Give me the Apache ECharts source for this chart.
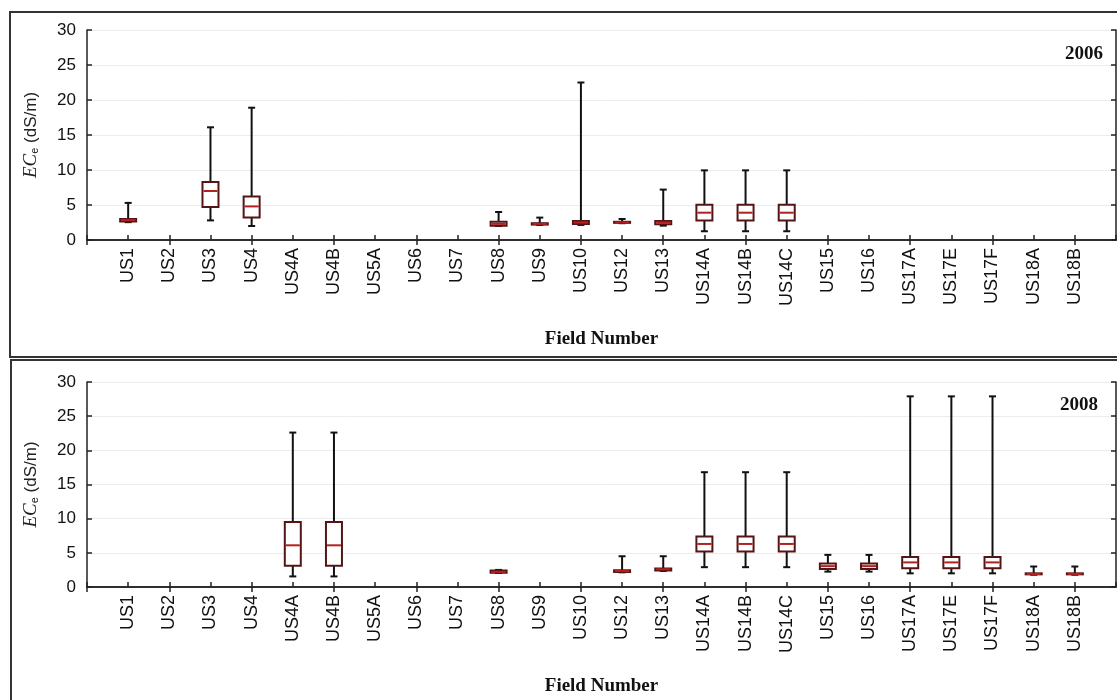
<!DOCTYPE html>
<html>
<head>
<meta charset="utf-8">
<script src="https://cdn.jsdelivr.net/npm/echarts@6/dist/echarts.min.js"></script>
<style>
html,body{margin:0;padding:0;background:#fff;}
#chart{width:1117px;height:700px;}
</style>
</head>
<body>
<div id="chart"></div>
<script>
// ---- data ----
const fields = ['US1','US2','US3','US4','US4A','US4B','US5A','US6','US7','US8','US9','US10','US12','US13','US14A','US14B','US14C','US15','US16','US17A','US17E','US17F','US18A','US18B'];
const yTicks = [0, 5, 10, 15, 20, 25, 30];
const years = ['2006', '2008'];
// [min, Q1, median, Q3, max] per field; null = no data
const boxes2006 = [
  [2.55, 2.65, 2.85, 3.0, 5.3],   // US1
  null,                           // US2
  [2.8, 4.7, 7.0, 8.3, 16.1],     // US3
  [2.0, 3.2, 4.8, 6.2, 18.9],     // US4
  null, null, null, null, null,   // US4A..US7
  [2.0, 2.05, 2.3, 2.6, 4.0],     // US8
  [2.15, 2.2, 2.3, 2.4, 3.2],     // US9
  [2.15, 2.3, 2.5, 2.7, 22.5],    // US10
  [2.4, 2.45, 2.5, 2.6, 3.0],     // US12
  [2.05, 2.25, 2.5, 2.7, 7.2],    // US13
  [1.25, 2.8, 3.9, 5.05, 9.95],   // US14A
  [1.25, 2.8, 3.9, 5.05, 9.95],   // US14B
  [1.25, 2.8, 3.9, 5.05, 9.95],   // US14C
  null, null, null, null, null, null, null // US15..US18B
];
const boxes2008 = [
  null, null, null, null,         // US1..US4
  [1.55, 3.1, 6.1, 9.5, 22.6],    // US4A
  [1.55, 3.1, 6.1, 9.5, 22.6],    // US4B
  null, null, null,               // US5A, US6, US7
  [2.05, 2.1, 2.2, 2.4, 2.5],     // US8
  null, null,                     // US9, US10
  [2.15, 2.2, 2.35, 2.45, 4.5],   // US12
  [2.35, 2.4, 2.6, 2.7, 4.5],     // US13
  [2.9, 5.2, 6.3, 7.4, 16.8],     // US14A
  [2.9, 5.2, 6.3, 7.4, 16.8],     // US14B
  [2.9, 5.2, 6.3, 7.4, 16.8],     // US14C
  [2.25, 2.65, 3.05, 3.45, 4.7],  // US15
  [2.25, 2.65, 3.05, 3.45, 4.7],  // US16
  [2.0, 2.75, 3.6, 4.4, 27.9],    // US17A
  [2.0, 2.75, 3.6, 4.4, 27.9],    // US17E
  [2.0, 2.75, 3.6, 4.4, 27.9],    // US17F
  [1.8, 1.85, 1.9, 2.0, 3.0],     // US18A
  [1.8, 1.85, 1.9, 2.0, 3.0]      // US18B
];

// ---- chart ----
const cats = [''].concat(fields, ['']);
const sans = 'Liberation Sans, Arial, sans-serif';
const serif = 'Liberation Serif, Times New Roman, serif';
const BOX_EDGE = '#561414';
const MEDIAN = '#b3201f';

function toSeriesData(boxes) {
  const out = [];
  boxes.forEach((b, i) => { if (b) out.push([i + 1].concat(b)); });
  return out;
}

function renderBox(params, api) {
  const x = api.value(0);
  const pMin = api.coord([x, api.value(1)]);
  const pQ1 = api.coord([x, api.value(2)]);
  const pMed = api.coord([x, api.value(3)]);
  const pQ3 = api.coord([x, api.value(4)]);
  const pMax = api.coord([x, api.value(5)]);
  const cx = pMed[0];
  const bw = 16, cw = 7;
  const line = (x1, y1, x2, y2, color, w) => ({
    type: 'line', shape: { x1, y1, x2, y2 },
    style: { stroke: color, lineWidth: w }
  });
  return {
    type: 'group',
    children: [
      line(cx, pMax[1], cx, pQ3[1], '#111', 2),
      line(cx, pQ1[1], cx, pMin[1], '#111', 2),
      line(cx - cw / 2, pMax[1], cx + cw / 2, pMax[1], '#111', 2),
      line(cx - cw / 2, pMin[1], cx + cw / 2, pMin[1], '#111', 2),
      {
        type: 'rect',
        shape: { x: cx - bw / 2, y: pQ3[1], width: bw, height: pQ1[1] - pQ3[1] },
        style: { fill: '#fff', stroke: BOX_EDGE, lineWidth: 2 }
      },
      line(cx - bw / 2 + 1, pMed[1], cx + bw / 2 - 1, pMed[1], MEDIAN, 2)
    ]
  };
}

const grids = [
  { left: 87, top: 30, width: 1029, height: 210 },
  { left: 87, top: 382, width: 1029, height: 205 }
];

const xAxes = [], yAxes = [], series = [];
grids.forEach((g, gi) => {
  const common = {
    type: 'category', data: cats, boundaryGap: false, gridIndex: gi,
    axisLine: { lineStyle: { color: '#222', width: 1.5 } },
    axisTick: { inside: true, length: 5, lineStyle: { color: '#222', width: 1.5 } },
    splitLine: { show: false }
  };
  xAxes.push(Object.assign({}, common, {
    position: 'bottom',
    name: 'Field Number', nameLocation: 'middle', nameGap: 90,
    nameTextStyle: { fontFamily: serif, fontWeight: 'bold', fontSize: 19, color: '#111' },
    axisLabel: { rotate: 90, interval: 0, margin: 8, fontFamily: sans, fontSize: 18, color: '#111' }
  }));
  xAxes.push(Object.assign({}, common, { position: 'top', axisLabel: { show: false } }));
  const ycommon = {
    type: 'value', min: yTicks[0], max: yTicks[yTicks.length - 1], interval: yTicks[1] - yTicks[0],
    gridIndex: gi,
    axisLine: { show: true, lineStyle: { color: '#222', width: 1.5 } },
    axisTick: { show: true, inside: true, length: 5, lineStyle: { color: '#222', width: 1.5 } }
  };
  yAxes.push(Object.assign({}, ycommon, {
    position: 'left',
    splitLine: { show: true, lineStyle: { color: '#ececec', width: 1 } },
    axisLabel: { margin: 11, fontFamily: sans, fontSize: 17, color: '#111' },
    name: '{i|EC}{s|e}{n| (dS/m)}', nameLocation: 'middle', nameGap: 47, nameRotate: 90,
    nameTextStyle: {
      rich: {
        i: { fontFamily: serif, fontStyle: 'italic', fontSize: 19, color: '#222', verticalAlign: 'bottom', lineHeight: 22 },
        s: { fontFamily: sans, fontSize: 11, color: '#222', verticalAlign: 'bottom', lineHeight: 16 },
        n: { fontFamily: sans, fontSize: 17, color: '#222', verticalAlign: 'bottom', lineHeight: 22 }
      }
    }
  }));
  yAxes.push(Object.assign({}, ycommon, {
    position: 'right', splitLine: { show: false }, axisLabel: { show: false }
  }));
  series.push({
    type: 'custom', xAxisIndex: gi * 2, yAxisIndex: gi * 2,
    renderItem: renderBox, clip: false,
    data: toSeriesData(gi === 0 ? boxes2006 : boxes2008),
    encode: { x: 0, y: [1, 2, 3, 4, 5] },
    silent: true, animation: false
  });
});

const chart = echarts.init(document.getElementById('chart'), null, { renderer: 'canvas' });
chart.setOption({
  animation: false,
  backgroundColor: '#fff',
  grid: grids,
  xAxis: xAxes,
  yAxis: yAxes,
  series: series,
  graphic: [
    { type: 'rect', shape: { x: 10, y: 12, width: 1120, height: 345 }, style: { fill: 'none', stroke: '#333', lineWidth: 2 }, z: 0 },
    { type: 'rect', shape: { x: 11, y: 360, width: 1120, height: 360 }, style: { fill: 'none', stroke: '#333', lineWidth: 2 }, z: 0 },
    { type: 'text', right: 14, top: 45, style: { text: years[0], font: 'bold 19px ' + serif, fill: '#111' }, z: 10 },
    { type: 'text', right: 19, top: 396, style: { text: years[1], font: 'bold 19px ' + serif, fill: '#111' }, z: 10 }
  ]
});
</script>
</body>
</html>
